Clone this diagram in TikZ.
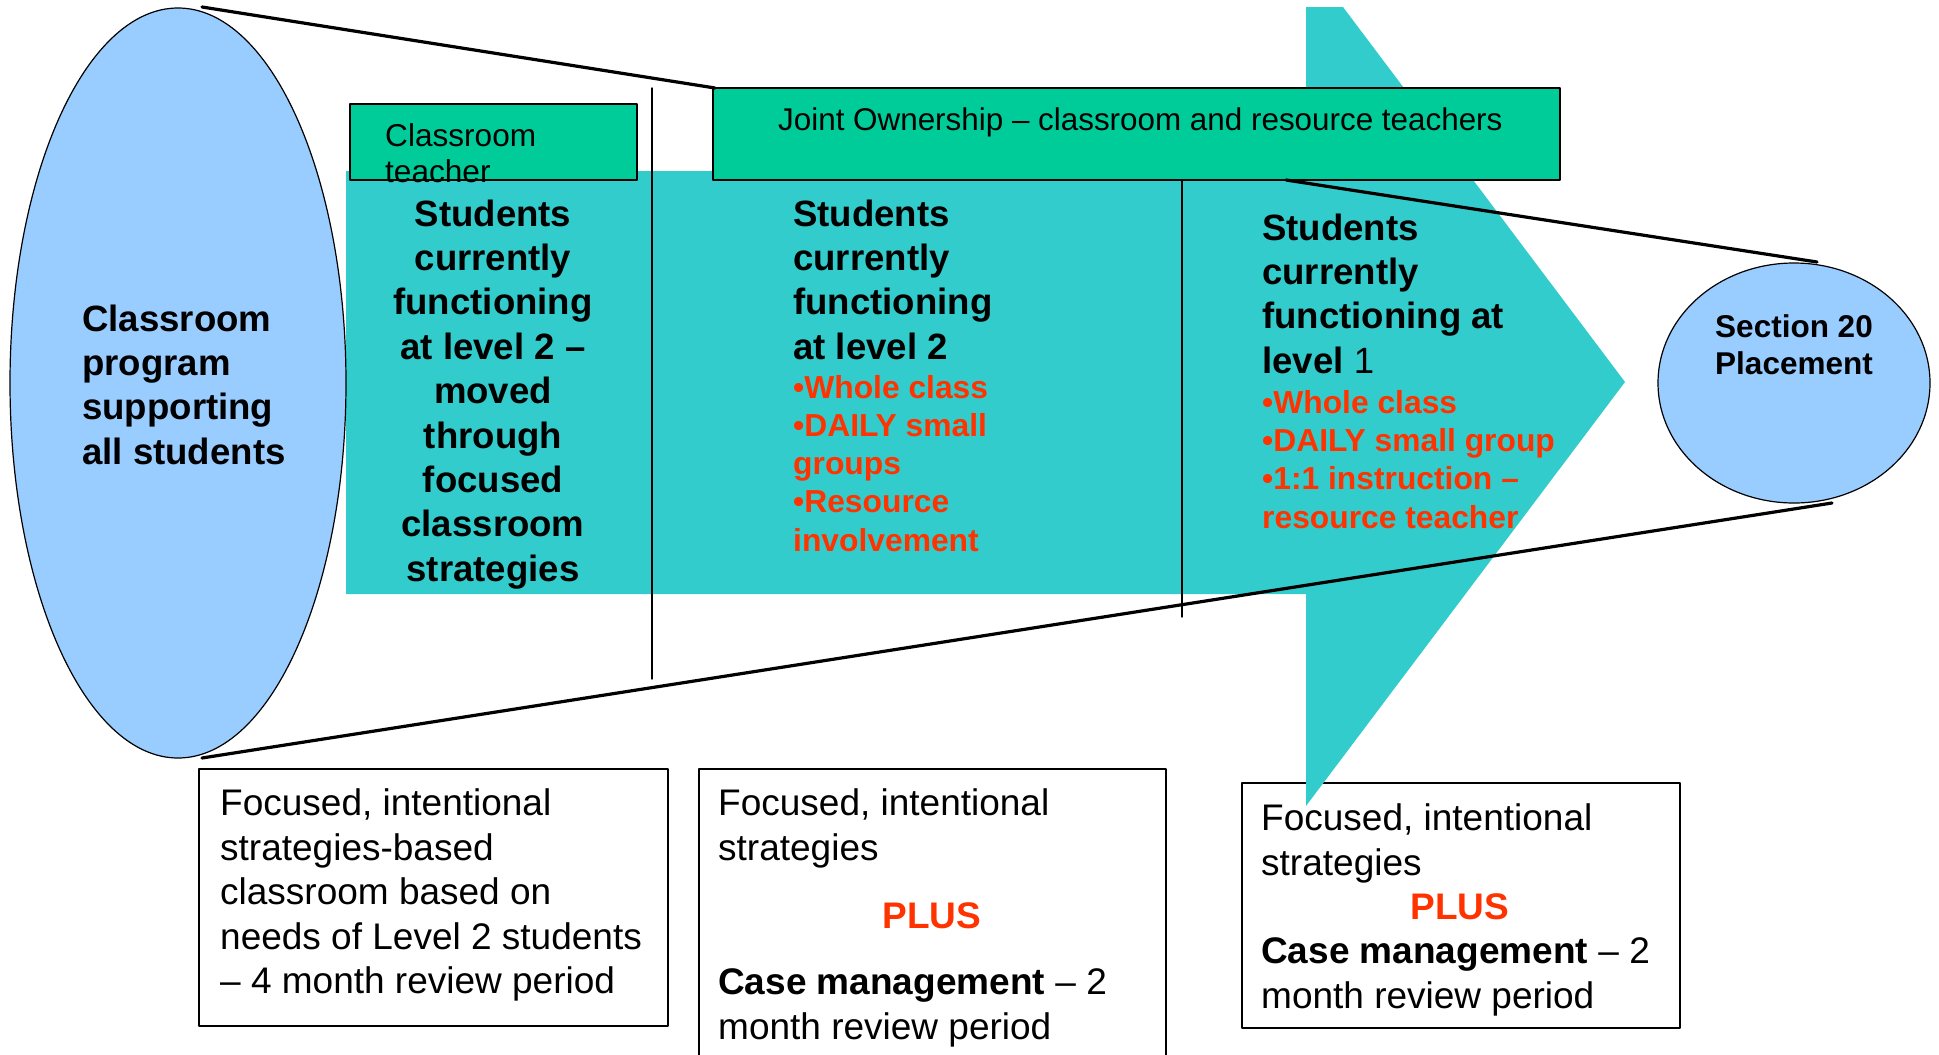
\documentclass[tikz,border=0pt]{standalone}
\usepackage{fontspec}
\setmainfont{Liberation Sans}
\usepackage{xcolor}
\definecolor{ovalblue}{RGB}{153,204,255}
\definecolor{arrowteal}{RGB}{51,204,204}
\definecolor{boxgreen}{RGB}{0,204,153}
\definecolor{listred}{RGB}{255,51,0}
\tikzset{
  headtext/.style={inner sep=0pt,align=left,font=\fontsize{36.6}{44.4}\selectfont\bfseries},
  listtext/.style={inner sep=0pt,align=left,text=listred,font=\fontsize{31.8}{38.2}\selectfont\bfseries},
  boxtext/.style={inner sep=0pt,align=left,font=\fontsize{37}{44.5}\selectfont},
  plustext/.style={inner sep=0pt,text=listred,font=\fontsize{37}{44.5}\selectfont\bfseries},
  teachtext/.style={inner sep=0pt,align=left,font=\fontsize{31.6}{36}\selectfont},
}
\begin{document}
\begin{tikzpicture}[line cap=round,line join=round,x=1pt,y=-1pt]
  \useasboundingbox (0,0) rectangle (1939,1055);
  \coordinate (ovaltop) at (202,7);
  \coordinate (ovalbottom) at (202,758);
  \coordinate (jointcorner) at (715,88);
  \coordinate (jointfoot) at (1286,180);
  \coordinate (placetop) at (1817,262);
  \coordinate (placebottom) at (1832,503);
  % review boxes
  \draw [line width=1.8pt] (199,769) rectangle (668,1026);
  \draw [line width=1.8pt] (699,1056) -- (699,769) -- (1166,769) -- (1166,1056);
  \draw [line width=1.8pt] (1242,783) rectangle (1680,1028);
  % arrow, ovals and headers
  \fill [arrowteal] (346,171) -- (1306,171) -- (1306,7) -- (1343,7) -- (1625,382) -- (1306,806) -- (1306,594) -- (346,594) -- cycle;
  \draw [fill=ovalblue,line width=1.2pt] (178,383) ellipse [x radius=168,y radius=375];
  \draw [fill=boxgreen,line width=1.4pt] (350,104) rectangle (637,180);
  \draw [fill=boxgreen,line width=1.4pt] (713,88) rectangle (1560,180);
  \draw [line width=1.4pt] (652,88) -- (652,679);
  \draw [line width=1.4pt] (1182,180) -- (1182,617);
  \draw [fill=ovalblue,line width=1.2pt] (1794,383) ellipse [x radius=136,y radius=120];
  \draw [line width=3.2pt] (ovaltop) -- (jointcorner);
  \draw [line width=3.2pt] (jointfoot) -- (placetop);
  \draw [line width=3.2pt] (ovalbottom) -- (placebottom);
  % texts
  \node [headtext,anchor=north west] (program) at (82,304.4) {Classroom\\program\\supporting\\all students};
  \node [teachtext,anchor=north west] (teacher) at (385,123.5) {Classroom\\teacher};
  \node [inner sep=0pt,anchor=base west,font=\fontsize{31.4}{36}\selectfont] (joint) at (778,130) {Joint Ownership – classroom and resource teachers};
  \node [headtext,align=center,anchor=north] (levelmoved) at (493,199.4) {Students\\currently\\functioning\\at level 2 –\\moved\\through\\focused\\classroom\\strategies};
  \node [headtext,anchor=north west] (leveltwo) at (793,199.4) {Students\\currently\\functioning\\at level 2};
  \node [listtext,anchor=north west] (leveltwolist) at (793,375) {•Whole class\\•DAILY small\\groups\\•Resource\\involvement};
  \node [headtext,anchor=north west] (levelone) at (1262,213.4) {Students\\currently\\functioning at\\level {\mdseries 1}};
  \node [listtext,anchor=north west] (levelonelist) at (1262,390.2) {•Whole class\\•DAILY small group\\•1:1 instruction –\\resource teacher};
  \node [inner sep=0pt,align=center,anchor=north,font=\fontsize{31.5}{37}\selectfont\bfseries] (placement) at (1794,314) {Section 20\\Placement};
  \node [boxtext,anchor=north west] (reviewfour) at (220,788.5) {Focused, intentional\\strategies-based\\classroom based on\\needs of Level 2 students\\– 4 month review period};
  \node [boxtext,anchor=north west] (focustwo) at (718,788.5) {Focused, intentional\\strategies};
  \node [plustext,anchor=base] (plustwo) at (932,928) {PLUS};
  \node [boxtext,anchor=north west] (casetwo) at (718,968.5) {\textbf{Case management} – 2\\month review period};
  \node [boxtext,anchor=north west] (focusone) at (1261,803.5) {Focused, intentional\\strategies};
  \node [plustext,anchor=base] (plusone) at (1460,919) {PLUS};
  \node [boxtext,anchor=north west] (caseone) at (1261,937.5) {\textbf{Case management} – 2\\month review period};
\end{tikzpicture}
\end{document}
